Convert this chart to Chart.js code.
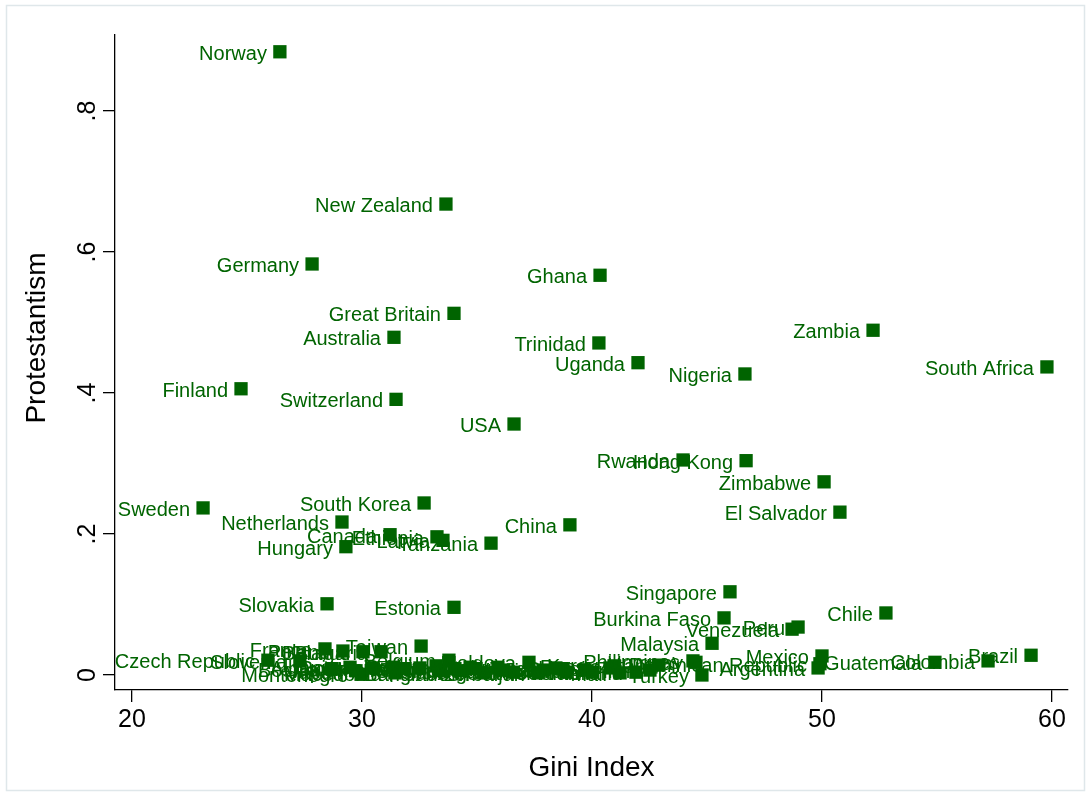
<!DOCTYPE html>
<html>
<head>
<meta charset="utf-8">
<title>Protestantism and Gini Index</title>
<script src="https://cdn.jsdelivr.net/npm/chart.js@4/dist/chart.umd.min.js"></script>
<style>
  html, body { margin: 0; padding: 0; background: #ffffff; }
  #wrap { width: 1091px; height: 796px; position: relative; }
</style>
</head>
<body>
<div id="wrap"><canvas id="chart"></canvas></div>
<script>
// Country names, Gini index and share of Protestants
const countries = [
  "Norway", "New Zealand", "Germany", "Ghana", "Great Britain", "Australia", "Trinidad", "Zambia",
  "Uganda", "Nigeria", "South Africa", "Finland", "Switzerland", "USA", "Rwanda", "Hong Kong",
  "Zimbabwe", "El Salvador", "Sweden", "South Korea", "Netherlands", "Canada", "Ethiopia", "Latvia",
  "Tanzania", "Hungary", "China", "Singapore", "Burkina Faso", "Chile", "Venezuela", "Peru",
  "Malaysia", "Slovakia", "Estonia",
  "Czech Republic", "Slovenia", "France", "Poland", "Belarus", "Bulgaria", "Taiwan", "Moldova",
  "Kyrgyzstan", "Philippines", "Uruguay", "Dominican Republic", "Mexico", "Argentina", "Guatemala",
  "Colombia", "Brazil", "Turkey",
  "Montenegro", "Bosnia", "Albania", "Japan", "Croatia", "Romania", "Macedonia", "Ukraine",
  "Austria", "Spain", "Serbia", "Belgium", "Egypt", "Ireland", "Lithuania", "Indonesia",
  "Bangladesh", "Italy", "Pakistan", "Algeria", "India", "Azerbaijan", "Portugal", "Vietnam",
  "Armenia", "Morocco", "Jordan", "Georgia", "Russia", "Mali", "Thailand", "Iran"
];

const gini = [
  26.43, 33.65, 27.83, 40.35, 34.00, 31.39, 40.30, 52.22,
  42.00, 46.65, 59.78, 24.74, 31.48, 36.61, 43.96, 46.70,
  50.09, 50.78, 23.09, 32.70, 29.13, 31.22, 33.26, 33.52,
  35.61, 29.30, 39.04, 46.00, 45.74, 52.78, 48.70, 48.96,
  45.22, 28.48, 34.00,
  25.91, 27.30, 28.39, 29.17, 30.04, 30.83, 32.57, 37.26,
  42.91, 44.39, 44.52, 49.91, 50.00, 49.83, 54.91,
  57.22, 59.09, 44.78,
  29.96, 28.70, 29.48, 29.74, 30.43, 31.30, 31.43, 31.87,
  32.52, 33.39, 33.22, 33.78, 34.04, 34.35, 34.70, 34.96,
  35.26, 35.91, 36.09, 36.57, 37.87, 37.65, 38.43, 38.70,
  38.87, 39.70, 40.00, 40.78, 40.96, 41.22, 41.91, 42.52
];

const protestantism = [
  0.884, 0.668, 0.583, 0.567, 0.513, 0.479, 0.471, 0.489,
  0.443, 0.427, 0.437, 0.406, 0.391, 0.356, 0.305, 0.304,
  0.274, 0.231, 0.237, 0.244, 0.217, 0.199, 0.196, 0.191,
  0.187, 0.182, 0.213, 0.118, 0.081, 0.088, 0.065, 0.068,
  0.045, 0.101, 0.096,
  0.021, 0.020, 0.037, 0.034, 0.033, 0.033, 0.041, 0.018,
  0.014, 0.020, 0.018, 0.016, 0.027, 0.010, 0.018,
  0.020, 0.028, 0.000,
  0.001, 0.009, 0.011, 0.006, 0.010, 0.011, 0.003, 0.009,
  0.010, 0.007, 0.013, 0.021, 0.009, 0.006, 0.011, 0.009,
  0.003, 0.011, 0.007, 0.004, 0.007, 0.003, 0.010, 0.009,
  0.004, 0.007, 0.004, 0.010, 0.013, 0.003, 0.004, 0.007
];

// Axis ticks and titles
const xTickValues = [20, 30, 40, 50, 60];
const yTickValues = [0, 0.2, 0.4, 0.6, 0.8];
const yTickLabels = ["0", ".2", ".4", ".6", ".8"];
const xTitle = "Gini Index";
const yTitle = "Protestantism";

const MARK = "#006400";
const FONT = "'Liberation Sans', Arial, Helvetica, sans-serif";

const points = gini.map((g, i) => ({ x: g, y: protestantism[i] }));

// White page with a faint frame around the whole graph
const backdrop = {
  id: "backdrop",
  beforeDraw(chart) {
    const ctx = chart.ctx;
    ctx.save();
    ctx.fillStyle = "#ffffff";
    ctx.fillRect(0, 0, chart.width, chart.height);
    ctx.strokeStyle = "#dfe7ea";
    ctx.lineWidth = 1.5;
    ctx.strokeRect(6.5, 5.5, chart.width - 13, chart.height - 11);
    ctx.restore();
  }
};

// Country name to the left of each marker
const markerLabels = {
  id: "markerLabels",
  afterDatasetsDraw(chart) {
    const ctx = chart.ctx;
    const meta = chart.getDatasetMeta(0);
    ctx.save();
    ctx.font = "20px " + FONT;
    ctx.fillStyle = MARK;
    ctx.textAlign = "right";
    ctx.textBaseline = "middle";
    meta.data.forEach((el, i) => {
      ctx.fillText(countries[i], el.x - 13, el.y + 2.5);
    });
    ctx.restore();
  }
};

// Vertical tick labels on the y axis and both axis titles
const axisText = {
  id: "axisText",
  afterDraw(chart) {
    const ctx = chart.ctx;
    const ys = chart.scales.y;
    const area = chart.chartArea;
    ctx.save();
    ctx.fillStyle = "#000000";
    ctx.textAlign = "center";
    ctx.textBaseline = "middle";
    ctx.font = "25px " + FONT;
    yTickValues.forEach((v, i) => {
      const py = ys.getPixelForValue(v);
      ctx.save();
      ctx.translate(88, py);
      ctx.rotate(-Math.PI / 2);
      ctx.fillText(yTickLabels[i], 0, 0);
      ctx.restore();
    });
    ctx.font = "28px " + FONT;
    ctx.fillText(xTitle, (area.left + area.right) / 2, 768);
    ctx.save();
    ctx.translate(37, 338);
    ctx.rotate(-Math.PI / 2);
    ctx.fillText(yTitle, 0, 0);
    ctx.restore();
    ctx.restore();
  }
};

new Chart(document.getElementById("chart"), {
  type: "scatter",
  data: {
    datasets: [{
      data: points,
      pointStyle: "rect",
      pointRadius: 9.4,
      pointHoverRadius: 9.4,
      backgroundColor: MARK,
      borderColor: MARK,
      borderWidth: 0
    }]
  },
  options: {
    responsive: true,
    maintainAspectRatio: false,
    animation: false,
    devicePixelRatio: 1,
    layout: { padding: { left: 0, right: 23, top: 35, bottom: 0 } },
    plugins: {
      legend: { display: false },
      tooltip: { enabled: false }
    },
    scales: {
      x: {
        type: "linear",
        min: 19.261,
        max: 60.696,
        afterBuildTicks(scale) { scale.ticks = xTickValues.map(v => ({ value: v })); },
        afterFit(scale) { scale.height = 106; },
        grid: { display: true, drawOnChartArea: false, drawTicks: true, tickLength: 12, color: "#000000", lineWidth: 1.3 },
        border: { display: true, color: "#000000", width: 1.3 },
        ticks: {
          color: "#000000",
          font: { family: FONT, size: 25 },
          padding: 3,
          maxRotation: 0,
          autoSkip: false,
          callback: v => String(v)
        }
      },
      y: {
        type: "linear",
        min: -0.02128,
        max: 0.9078,
        afterBuildTicks(scale) { scale.ticks = yTickValues.map(v => ({ value: v })); },
        afterFit(scale) { scale.width = 115; },
        grid: { display: true, drawOnChartArea: false, drawTicks: true, tickLength: 12, color: "#000000", lineWidth: 1.3 },
        border: { display: true, color: "#000000", width: 1.3 },
        ticks: { display: false }
      }
    }
  },
  plugins: [backdrop, markerLabels, axisText]
});
</script>
</body>
</html>
